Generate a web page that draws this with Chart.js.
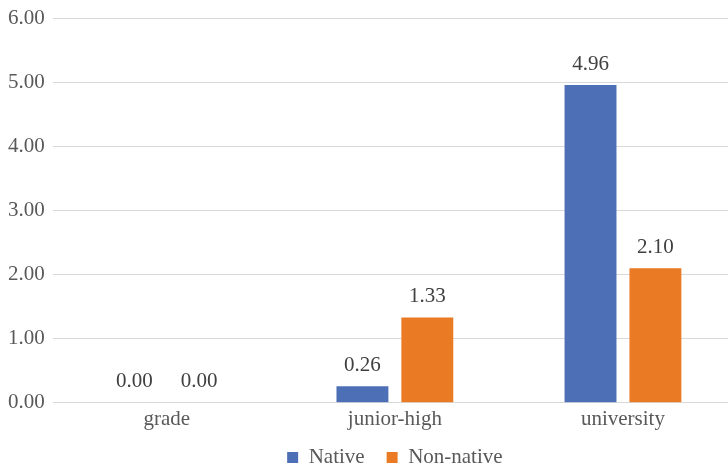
<!DOCTYPE html>
<html>
<head>
<meta charset="utf-8">
<script src="https://cdn.jsdelivr.net/npm/chart.js@4/dist/chart.umd.min.js"></script>
<style>
  html, body { margin: 0; padding: 0; background: #ffffff; overflow: hidden; }
  #wrap { width: 746px; height: 464px; }
</style>
</head>
<body>
<div id="wrap"><canvas id="c" width="746" height="464"></canvas></div>
<script>
const categories = ['grade', 'junior-high', 'university'];
const nativeValues = [0.00, 0.26, 4.96];
const nonNativeValues = [0.00, 1.33, 2.10];
const yTicks = [0, 1, 2, 3, 4, 5, 6];

const FONT = "'Liberation Serif', 'Times New Roman', serif";

// Writes each bar's value just above its top
const valueLabels = {
  id: 'valueLabels',
  afterDatasetsDraw(chart) {
    const ctx = chart.ctx;
    ctx.save();
    ctx.font = '21px ' + FONT;
    ctx.fillStyle = '#404040';
    ctx.textAlign = 'center';
    ctx.textBaseline = 'middle';
    chart.data.datasets.forEach((ds, i) => {
      chart.getDatasetMeta(i).data.forEach((bar, j) => {
        ctx.fillText(Number(ds.data[j]).toFixed(2), bar.x, bar.y - 21);
      });
    });
    ctx.restore();
  }
};

// Pulls the legend row up a little, closer to the category labels
const legendLift = {
  id: 'legendLift',
  afterLayout(chart) {
    if (chart.legend) {
      chart.legend.top -= 11;
      chart.legend.bottom -= 11;
    }
  }
};

new Chart(document.getElementById('c'), {
  type: 'bar',
  data: {
    labels: categories,
    datasets: [
      { label: 'Native', data: nativeValues, backgroundColor: '#4D6FB5',
        categoryPercentage: 0.569, barPercentage: 0.8 },
      { label: 'Non-native', data: nonNativeValues, backgroundColor: '#EA7A24',
        categoryPercentage: 0.569, barPercentage: 0.8 }
    ]
  },
  options: {
    responsive: false,
    devicePixelRatio: 1,
    animation: false,
    layout: { padding: { top: 12, left: 0, right: 9, bottom: -25 } },
    scales: {
      x: {
        grid: { display: false, drawTicks: false },
        border: { display: false },
        ticks: { color: '#595959', font: { family: FONT, size: 21 }, padding: 4 }
      },
      y: {
        min: 0, max: 6,
        afterBuildTicks(scale) { scale.ticks = yTicks.map(v => ({ value: v })); },
        grid: { color: '#D9D9D9', lineWidth: 1, drawTicks: false },
        border: { display: false },
        ticks: {
          color: '#595959', font: { family: FONT, size: 21, lineHeight: 1 }, padding: 8,
          callback: v => Number(v).toFixed(2)
        }
      }
    },
    plugins: {
      legend: {
        position: 'bottom',
        fullSize: false,
        labels: {
          color: '#595959', font: { family: FONT, size: 21 },
          boxWidth: 11, boxHeight: 11, padding: 22
        }
      },
      tooltip: { enabled: false },
      title: { display: false }
    }
  },
  plugins: [valueLabels, legendLift]
});
</script>
</body>
</html>
